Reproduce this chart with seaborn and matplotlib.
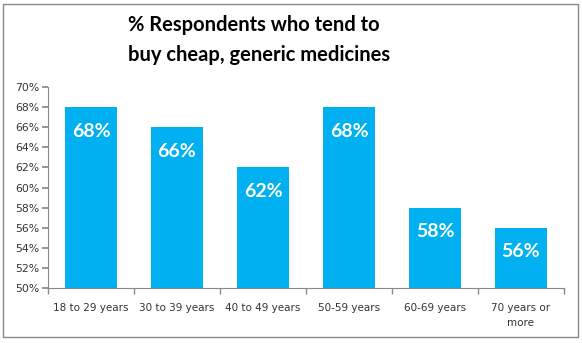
import matplotlib
matplotlib.use("Agg")
import matplotlib.pyplot as plt
import matplotlib.patches as mpatches
import seaborn as sns
import pandas as pd
from matplotlib.ticker import FuncFormatter

categories = ["18 to 29 years", "30 to 39 years", "40 to 49 years", "50-59 years", "60-69 years", "70 years or\nmore"]
values = [68, 66, 62, 68, 58, 56]
yticks = list(range(50, 71, 2))
title = "% Respondents who tend to\nbuy cheap, generic medicines"

sns.set_theme(style="white")
plt.rcParams['font.family'] = ['DejaVu Sans']

df = pd.DataFrame({"cat": categories, "val": values})

fig = plt.figure(figsize=(5.82, 3.43), dpi=100)
ax = fig.add_axes([48/582, 1-288/343, (564-48)/582, (288-87)/343])

sns.barplot(data=df, x="cat", y="val", color="#00B0F0", saturation=1, width=0.6,
            linewidth=0, ax=ax)

ax.set_ylim(50, 70)
ax.set_yticks(yticks)
ax.yaxis.set_major_formatter(FuncFormatter(lambda v, p: f"{int(v)}%"))
ax.set_xlabel("")
ax.set_ylabel("")
ax.tick_params(axis="y", labelsize=7.8, colors="#333333", length=4, direction="out", left=True, pad=2)
ax.tick_params(axis="x", labelsize=7.5, colors="#333333", length=0, pad=11)
ax.set_xticks([i + 0.5 for i in range(-1, len(categories))], minor=True)
ax.tick_params(axis="x", which="minor", length=4, direction="out", bottom=True, color="#888888")
ax.tick_params(axis="y", color="#888888")
for lbl in ax.get_xticklabels():
    lbl.set_linespacing(1.6)
    lbl.set_verticalalignment("top")

for s in ["top", "right"]:
    ax.spines[s].set_visible(False)
for s in ["left", "bottom"]:
    ax.spines[s].set_color("#888888")
    ax.spines[s].set_linewidth(0.8)

for i, v in enumerate(values):
    ax.text(i, v - 2.4, f"{v}%", ha="center", va="center", color="white",
            fontsize=14, fontweight="bold", family="Lato")

fig.text(128/582, 1-40/343, title, ha="left", va="center", fontsize=14.5,
         fontweight="bold", color="black", linespacing=1.58, family="Lato",
         multialignment="left")

border = mpatches.Rectangle((3/582, 1-337/343), 575/582, 333/343, transform=fig.transFigure,
                            fill=False, edgecolor="#888888", linewidth=1)
fig.patches.append(border)

fig.savefig("out.png", dpi=100)
